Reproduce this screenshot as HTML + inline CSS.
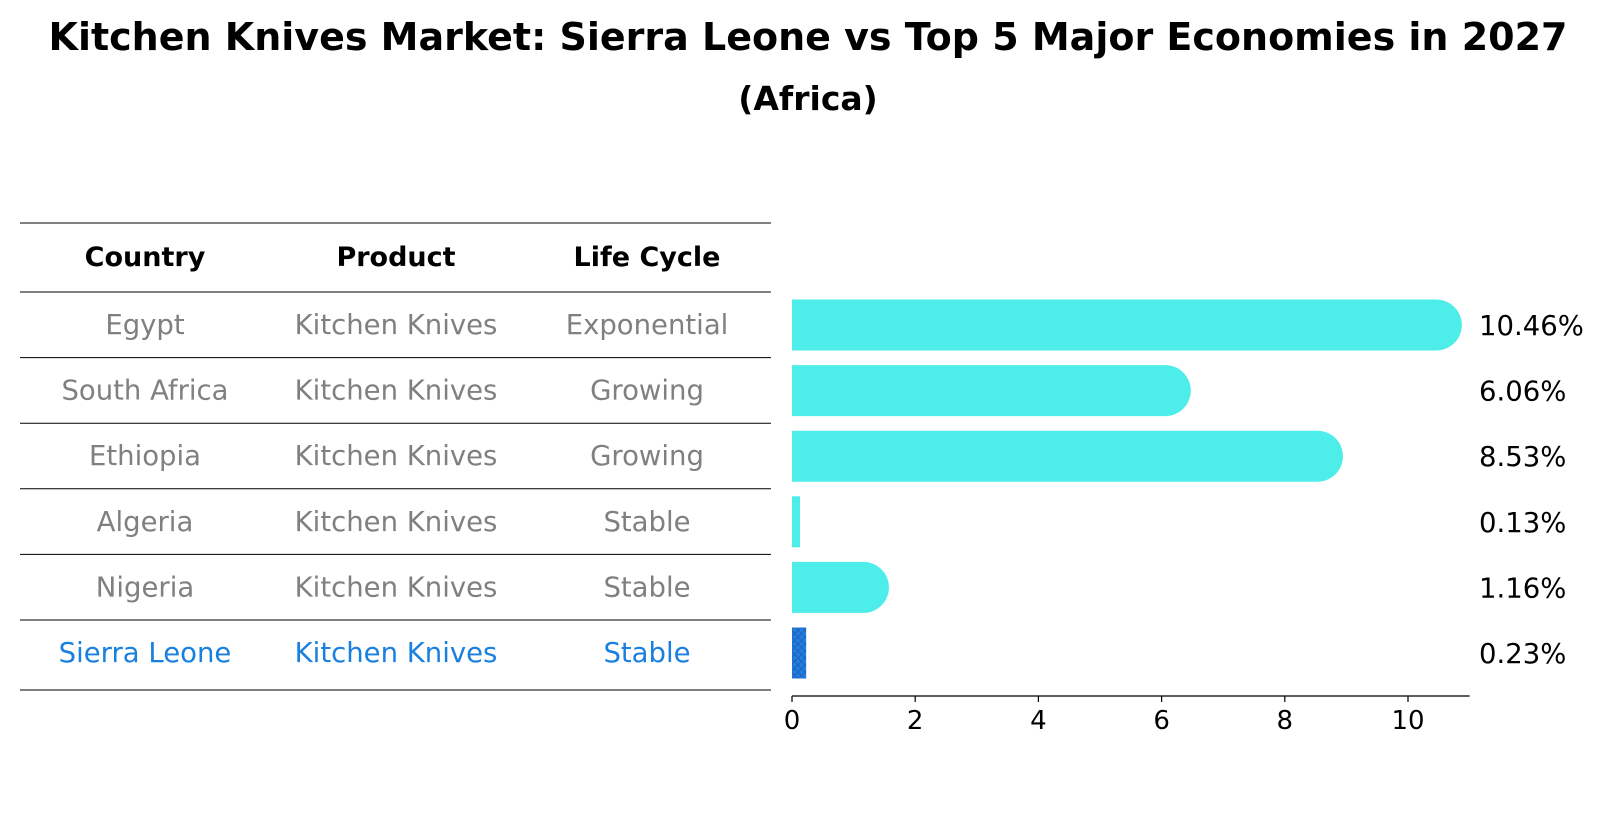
<!DOCTYPE html>
<html><head><meta charset="utf-8"><style>
body{margin:0;background:#fff;}
svg{display:block;font-family:"DejaVu Sans","Liberation Sans",sans-serif;}
</style></head><body>
<svg id="chart" width="1604" height="823" viewBox="0 0 1604 823">
<defs>
<pattern id="xhatch" patternUnits="userSpaceOnUse" width="7" height="7">
<rect width="7" height="7" fill="#1a80e8"/>
<path d="M0,0L7,7M7,0L0,7" stroke="#2a5fb0" stroke-width="1"/>
</pattern>
</defs>
<text x="808" y="50" text-anchor="middle" font-size="38" font-weight="bold">Kitchen Knives Market: Sierra Leone vs Top 5 Major Economies in 2027</text>
<text x="808" y="110" text-anchor="middle" font-size="33" font-weight="bold">(Africa)</text>
<g id="table"></g>
<g id="bars"></g>
<g id="axis"></g>
</svg>
<script>
const countries=["Egypt","South Africa","Ethiopia","Algeria","Nigeria","Sierra Leone"];
const products=["Kitchen Knives","Kitchen Knives","Kitchen Knives","Kitchen Knives","Kitchen Knives","Kitchen Knives"];
const lifeCycles=["Exponential","Growing","Growing","Stable","Stable","Stable"];
const values=[10.46,6.06,8.53,0.13,1.16,0.23];
const valueLabels=["10.46%","6.06%","8.53%","0.13%","1.16%","0.23%"];
const xTicks=[0,2,4,6,8,10];
const NS="http://www.w3.org/2000/svg";
function mk(tag,attrs,parent){const e=document.createElementNS(NS,tag);for(const k in attrs)e.setAttribute(k,attrs[k]);parent.appendChild(e);return e;}
const x0=792,x1=1408;
function xs(v){return x0+(x1-x0)*v/10;}
const headerY=257, rowY0=325, rowStep=65.6;
function ys(i){return rowY0+i*rowStep;}
const table=document.getElementById('table');
const cols=[145,396,647];
const heads=["Country","Product","Life Cycle"];
heads.forEach((h,j)=>{
 const t=mk('text',{x:cols[j],y:headerY+9,'text-anchor':'middle','font-size':'27','font-weight':'bold'},table);
 t.textContent=h;
 
 
});
function hline(y){const l=mk('line',{x1:20,x2:771,y1:y,y2:y,stroke:'#000','stroke-width':1},table);
 
 }
hline(223);
countries.forEach((c,i)=>{
 const y=ys(i);
 hline(y-33);
 const col=i===countries.length-1?'#1a80e0':'#808080';
 [c,products[i],lifeCycles[i]].forEach((s,j)=>{
  const t=mk('text',{x:cols[j],y:y+9,'text-anchor':'middle','font-size':'27.5',fill:col},table);
  t.textContent=s;
  
  
 });
});
hline(ys(countries.length-1)+37);
const bars=document.getElementById('bars');
const bh=51;
values.forEach((v,i)=>{
 const y=ys(i);
 const last=i===values.length-1;
 const w=xs(v)-x0;
 let el;
 if(last){
  el=mk('rect',{x:x0,y:y-bh/2,width:w,height:bh,fill:'url(#xhatch)'},bars);
 }else if(v>0.5){
  const r=bh/2,xe=xs(v);
  el=mk('path',{d:`M${x0},${y-r}L${xe},${y-r}A${r},${r} 0 0 1 ${xe},${y+r}L${x0},${y+r}Z`,fill:'#4deeea'},bars);
 }else{
  el=mk('rect',{x:x0,y:y-bh/2,width:w,height:bh,fill:'#4deeea'},bars);
 }
 
 
 const t=mk('text',{x:1479,y:y+10,'font-size':'27.5',fill:'#000'},bars);
 t.textContent=valueLabels[i];
 
 
});
const axis=document.getElementById('axis');
const ay=696;
const al=mk('line',{x1:x0,x2:xs(11),y1:ay,y2:ay,stroke:'#000','stroke-width':1.3},axis);


xTicks.forEach(v=>{
 const tk=mk('line',{x1:xs(v),x2:xs(v),y1:ay,y2:ay+6,stroke:'#000','stroke-width':1.2},axis);
 
 
 const t=mk('text',{x:xs(v),y:ay+33,'text-anchor':'middle','font-size':'26'},axis);
 t.textContent=v;
 
 
});
</script>
</body></html>
